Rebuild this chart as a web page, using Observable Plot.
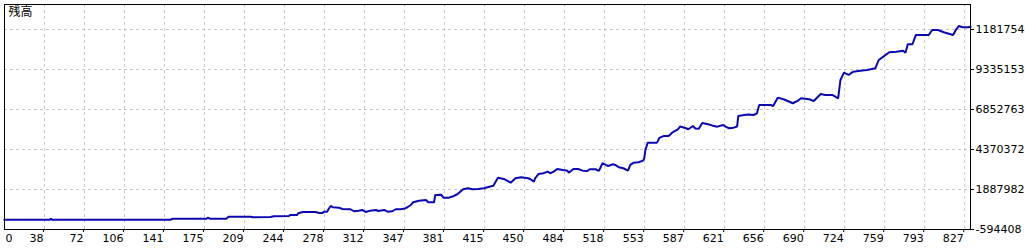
<!DOCTYPE html>
<html>
<head>
<meta charset="utf-8">
<script src="https://cdn.jsdelivr.net/npm/d3@7"></script>
<script src="https://cdn.jsdelivr.net/npm/@observablehq/plot@0.6"></script>
<style>
  html, body { margin: 0; padding: 0; background: #ffffff; overflow: hidden; }
  #chart { width: 1025px; height: 250px; }
</style>
</head>
<body>
<div id="chart"></div>
<script>
// Title
const title = "残高";

// Trade index (x) and balance (y)
const trades = [0,39,40,41,143,145,174,175,177,191,
  193,212,214,229,232,245,246,252,253,257,
  268,271,274,275,278,279,281,283,288,291,
  298,301,305,308,311,315,320,322,327,330,
  334,337,341,345,347,350,352,357,363,365,
  370,371,376,378,383,387,390,395,399,403,
  408,413,416,421,425,430,436,440,445,451,
  453,456,457,460,464,468,470,473,476,481,
  485,486,490,494,498,502,504,509,512,515,
  518,520,524,526,529,533,537,539,542,546,
  550,551,552,554,562,564,568,572,575,580,
  582,587,589,593,595,598,601,606,610,614,
  619,621,624,628,631,632,637,641,645,648,
  650,660,662,666,671,679,683,686,693,697,
  703,707,713,718,720,723,727,731,737,743,
  746,750,753,757,762,768,774,776,778,782,
  785,796,799,804,809,817,819,822,825,830,
  832];

const balance = [10000,10000,72000,10000,10000,78000,78000,134000,78000,78000,
  196000,196000,165000,184000,227000,246000,308000,308000,413000,494000,
  494000,432000,432000,513000,513000,662000,866000,786000,761000,680000,
  662000,538000,575000,618000,494000,575000,618000,556000,618000,513000,
  538000,662000,662000,711000,786000,928000,1096000,1195000,1239000,1096000,
  1096000,1549000,1568000,1382000,1382000,1487000,1593000,1903000,1965000,1903000,
  1921000,1965000,2027000,2126000,2623000,2542000,2312000,2585000,2648000,2585000,
  2523000,2374000,2585000,2852000,2896000,2995000,2896000,2995000,3163000,3101000,
  3057000,2933000,3163000,3163000,3057000,3039000,3144000,3144000,3039000,3516000,
  3411000,3349000,3454000,3411000,3268000,3206000,3057000,3411000,3554000,3578000,
  3678000,3827000,4342000,4795000,4795000,5087000,5211000,5211000,5415000,5626000,
  5800000,5688000,5626000,5831000,5676000,5664000,6017000,5937000,5850000,5788000,
  5893000,5788000,5688000,5726000,5800000,6452000,6514000,6545000,6514000,6607000,
  7134000,7134000,7072000,7588000,7488000,7240000,7383000,7550000,7488000,7383000,
  7817000,7755000,7755000,7550000,8686000,9139000,8996000,9201000,9263000,9307000,
  9350000,9412000,9927000,10132000,10405000,10442000,10504000,10380000,10902000,10902000,
  11479000,11479000,11789000,11789000,11646000,11479000,11746000,12037000,11957000,11957000,
  11994000];

// Axis tick labels (as visible in the picture)
const xTickLabels = ["0","38","72","106","141","175","209","244","278","312","347","381","415",
  "450","484","518","553","587","621","656","690","724","759","793","827"];
const yTickValues = [-594408, 1887982, 4370372, 6852763, 9335153, 11817544];
const yTickLabels = ["-594408","1887982","4370372","6852763","9335153","1181754"];

const data = trades.map((t, i) => ({t, b: balance[i]}));

// evenly spaced x grid positions (label text from the array)
const xStep = +xTickLabels[xTickLabels.length - 1] / (xTickLabels.length - 1);
const xTickPos = xTickLabels.map((_, k) => k * xStep);
const xLabelMap = new Map(xTickPos.map((p, k) => [p, xTickLabels[k]]));
const yLabelMap = new Map(yTickValues.map((v, k) => [v, yTickLabels[k]]));

const yStep = yTickValues[1] - yTickValues[0];
const yTop = yTickValues[yTickValues.length - 1] + yStep * 25 / 40;

const gridStyle = {stroke: "#c8c8c8", strokeOpacity: 1, strokeWidth: 1, strokeDasharray: "3,3"};

const chart = Plot.plot({
  width: 1025,
  height: 250,
  marginLeft: 4,
  marginRight: 55,
  marginTop: 4,
  marginBottom: 21,
  x: {domain: [0, trades[trades.length - 1]], axis: null},
  y: {domain: [yTickValues[0], yTop], axis: null},
  style: {fontFamily: "'DejaVu Sans', sans-serif", fontSize: "11px", background: "#ffffff", color: "#000000"},
  marks: [
    Plot.gridX(xTickPos.slice(1), gridStyle),
    Plot.gridY(yTickValues.slice(1), gridStyle),
    Plot.line(data, {x: "t", y: "b", stroke: "#0a0ab0", strokeWidth: 2, strokeLinejoin: "miter", strokeLinecap: "square"}),
    Plot.frame({stroke: "#000000", strokeWidth: 1}),
    Plot.axisY(yTickValues, {
      anchor: "right", tickSize: 3, tickPadding: 2, textAnchor: "start",
      tickFormat: d => yLabelMap.get(d), fontSize: 11, label: null, stroke: "#000000", fill: "#000000"
    }),
    Plot.axisX(xTickPos.slice(1), {
      anchor: "bottom", tickSize: 3, tickPadding: 2, textAnchor: "end", dx: -1,
      tickFormat: d => xLabelMap.get(d), fontSize: 11, label: null, stroke: "#000000", fill: "#000000"
    }),
    Plot.text([xTickLabels[0]], {
      text: d => d, frameAnchor: "bottom-left", textAnchor: "start", lineAnchor: "top",
      dx: 1, dy: 5, fontSize: 11, fill: "#000000"
    }),
    Plot.text([title], {
      text: d => d, frameAnchor: "top-left", textAnchor: "start", lineAnchor: "top",
      dx: 4, dy: 3, fontSize: 12, fill: "#000000", fontFamily: "'Noto Sans CJK JP', sans-serif"
    })
  ]
});

document.getElementById("chart").appendChild(chart);
</script>
</body>
</html>
